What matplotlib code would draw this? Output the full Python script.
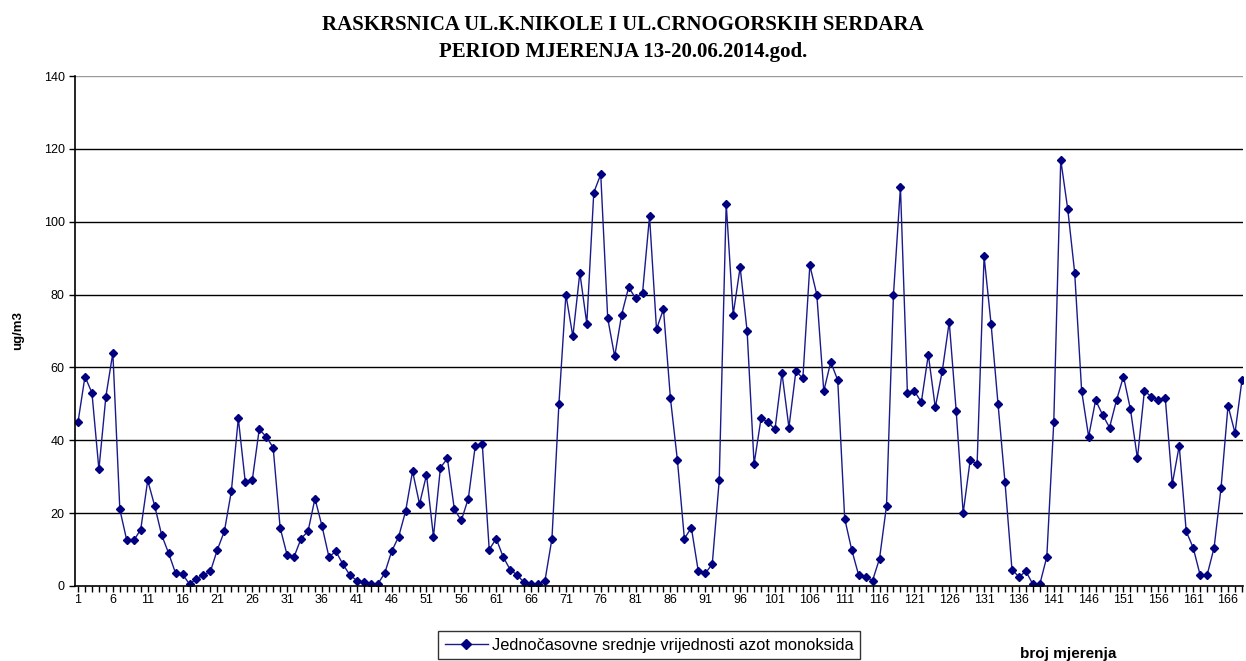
import matplotlib.pyplot as plt
from matplotlib.lines import Line2D

# Hourly mean NO concentration (ug/m3), measurement number 1..168
values = [
    45, 57.5, 53, 32, 52, 64, 21, 12.5, 12.5, 15.5,
    29, 22, 14, 9, 3.5, 3.2, 0.5, 2, 3, 4,
    10, 15, 26, 46, 28.5, 29, 43, 41, 38, 16,
    8.5, 8, 13, 15, 24, 16.5, 8, 9.5, 6, 3,
    1.5, 1, 0.5, 0.5, 3.5, 9.5, 13.5, 20.5, 31.5, 22.5,
    30.5, 13.5, 32.5, 35, 21, 18, 24, 38.5, 39, 10,
    13, 8, 4.5, 3, 1, 0.5, 0.5, 1.5, 13, 50,
    80, 68.5, 86, 72, 108, 113, 73.5, 63, 74.5, 82,
    79, 80.5, 101.5, 70.5, 76, 51.5, 34.5, 13, 16, 4,
    3.5, 6, 29, 105, 74.5, 87.5, 70, 33.5, 46, 45,
    43, 58.5, 43.5, 59, 57, 88, 80, 53.5, 61.5, 56.5,
    18.5, 10, 3, 2.5, 1.5, 7.5, 22, 80, 109.5, 53,
    53.5, 50.5, 63.5, 49, 59, 72.5, 48, 20, 34.5, 33.5,
    90.5, 72, 50, 28.5, 4.5, 2.5, 4, 0.5, 0.5, 8,
    45, 117, 103.5, 86, 53.5, 41, 51, 47, 43.5, 51,
    57.5, 48.5, 35, 53.5, 52, 51, 51.5, 28, 38.5, 15,
    10.5, 3, 3, 10.5, 27, 49.5, 42, 56.5,
]
measurements = list(range(1, len(values) + 1))
tick_labels = list(range(1, len(values) + 1, 5))
y_ticks = list(range(0, 141, 20))

title = "RASKRSNICA UL.K.NIKOLE I UL.CRNOGORSKIH SERDARA\nPERIOD MJERENJA 13-20.06.2014.god."
series_name = "Jednočasovne srednje vrijednosti azot monoksida"

plt.rcParams['font.family'] = ['Liberation Sans', 'DejaVu Sans']

fig = plt.figure(figsize=(12.46, 6.61), dpi=100)
ax = fig.add_axes([0.0602, 0.1135, 0.9374, 0.7715])

ax.plot(measurements, values, color='#1a1a8c', linewidth=1.0,
        marker='D', markersize=4.5, markerfacecolor='#000080',
        markeredgecolor='#000080')

ax.set_xlim(0.57, 168.15)
ax.set_ylim(0, 140)
ax.set_yticks(y_ticks)
ax.set_xticks(tick_labels)
ax.set_xticks(measurements, minor=True)
ax.tick_params(axis='both', which='both', direction='out', length=4,
               width=1, labelsize=9, color='black')
ax.tick_params(axis='x', which='major', pad=2)

for y in y_ticks[1:-1]:
    ax.axhline(y, color='black', linewidth=1.0, zorder=0)
ax.axhline(140, color='#999999', linewidth=1.0, zorder=0)

ax.spines['top'].set_visible(False)
ax.spines['right'].set_visible(False)
ax.spines['left'].set_linewidth(1.2)
ax.spines['bottom'].set_linewidth(1.2)

ax.set_ylabel('ug/m3', fontsize=9.5, fontweight='bold', labelpad=14)

fig.text(0.5, 0.978, title, ha='center', va='top', fontsize=15,
         fontweight='bold', family='Liberation Serif', linespacing=1.5)

fig.text(0.857, 0.0, 'broj mjerenja', ha='center', va='bottom',
         fontsize=11, fontweight='bold')

handle = Line2D([], [], color='#1a1a8c', linewidth=1.0, marker='D',
                markersize=5, markerfacecolor='#000080',
                markeredgecolor='#000080')
leg = fig.legend([handle], [series_name], loc='upper center',
                 bbox_to_anchor=(0.521, 0.045), fontsize=11.8, frameon=True,
                 fancybox=False, edgecolor='black', handlelength=2.6,
                 borderpad=0.4, handletextpad=0.25, borderaxespad=0)
leg.get_frame().set_linewidth(1.0)

fig.savefig('out.png', dpi=100)
